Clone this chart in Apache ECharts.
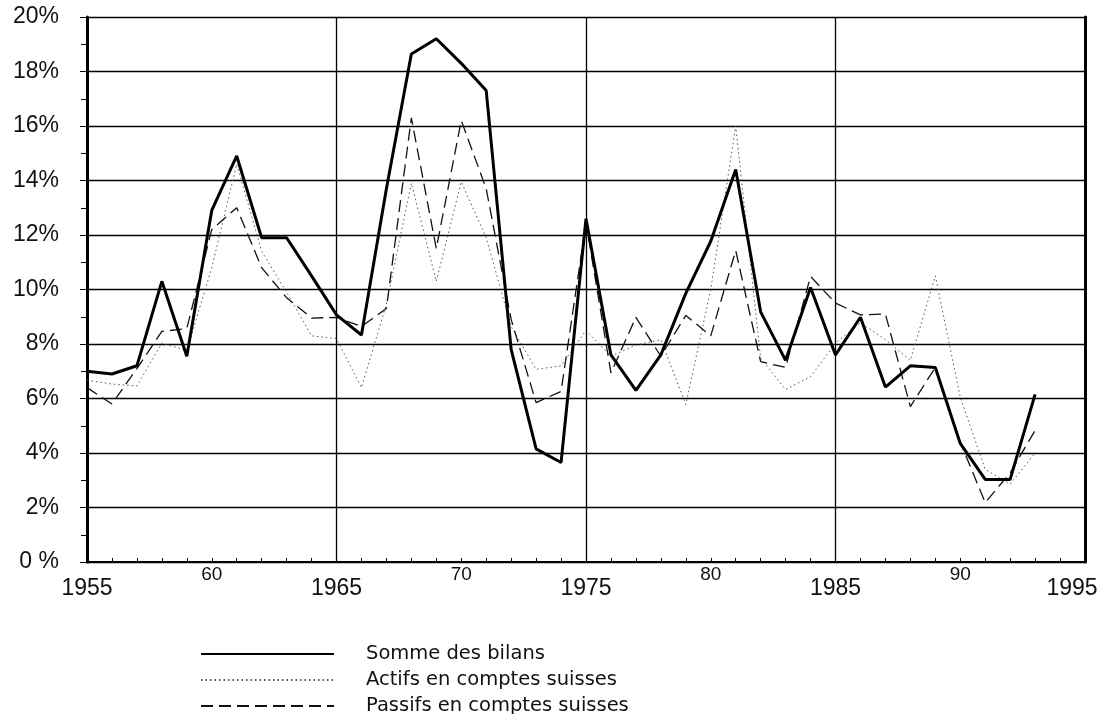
<!DOCTYPE html>
<html>
<head>
<meta charset="utf-8">
<script src="https://cdn.jsdelivr.net/npm/echarts@6/dist/echarts.min.js"></script>
<style>html,body{margin:0;padding:0;background:#fff}#c{width:1099px;height:714px}</style>
</head>
<body>
<div id="c"></div>
<script>
const years = [1955,1956,1957,1958,1959,1960,1961,1962,1963,1964,1965,1966,1967,1968,1969,1970,1971,1972,1973,1974,1975,1976,1977,1978,1979,1980,1981,1982,1983,1984,1985,1986,1987,1988,1989,1990,1991,1992,1993];
const somme = [7.0,6.9,7.2,10.3,7.55,12.9,14.9,11.9,11.9,10.5,9.07, 8.33,13.7,18.64,19.2,18.3,17.3,7.8,4.15,3.65,12.6, 7.6,6.3,7.6,9.86,11.77,14.4,9.18,7.4,10.07,7.6, 8.98,6.42,7.2,7.14,4.35,3.03,3.03,6.15];
const actifs = [6.67,6.53,6.46,8.03,7.76,10.8,14.6,11.4,9.9,8.3,8.2, 6.4,9.46,13.9,10.3,13.95,11.9,8.64,7.07,7.2,8.5, 7.55,7.96,8.16,5.78,10.0,16.0,7.48,6.33,6.8,8.03, 8.78,8.16,7.4,10.5,6.05,3.4,2.86,4.0];
const passifs = [6.4,5.8,7.1,8.46,8.57,12.2,13.0,10.8,9.7,8.95,8.98, 8.64,9.3,16.3,11.5,16.2,13.7,8.9,5.85,6.26,12.45, 6.94,8.98,7.55,9.05,8.3,11.43,7.35,7.14,10.48,9.5, 9.07,9.1,5.7,7.14,4.4,2.18,3.27,4.83];
const seriesNames = ['Somme des bilans','Actifs en comptes suisses','Passifs en comptes suisses'];
const yTicks = [0,2,4,6,8,10,12,14,16,18,20];

const font = 'Liberation Sans, Arial, sans-serif';
const pairs = arr => years.map((y,i)=>[y,arr[i]]);
const chart = echarts.init(document.getElementById('c'));
chart.setOption({
  animation:false,
  backgroundColor:'#fff',
  grid:{left:87,right:14,top:17,bottom:152,containLabel:false,outerBoundsMode:'none'},
  legend:{
    orient:'vertical', left:200, top:641, height:90, padding:0,
    itemWidth:133, itemHeight:12, itemGap:0,
    itemStyle:{opacity:0},
    data:[seriesNames[0],seriesNames[1],seriesNames[2]],
    textStyle:{fontFamily:'DejaVu Sans, sans-serif',fontSize:19.5,lineHeight:26,color:'#111',padding:[0,0,0,27]}
  },
  xAxis:{
    type:'value', min:1955, max:1995, interval:5,
    axisLine:{show:true,lineStyle:{color:'#000',width:2}},
    axisTick:{show:true,inside:true,length:4,lineStyle:{color:'#000',width:1}},
    minorTick:{show:true,splitNumber:5,length:4,lineStyle:{color:'#000',width:1}},
    splitLine:{show:true,lineStyle:{color:['#000','rgba(0,0,0,0)'],width:1.3}},
    axisLabel:{
      margin:3,
      formatter:v=>{
        if (v===1995) return '{last|'+v+'}';
        return (v%10===5)? '{big|'+v+'}' : '{small|'+String(v).slice(2)+'}';
      },
      rich:{
        big:{fontFamily:font,fontSize:23,color:'#111',padding:[12,0,0,0]},
        last:{fontFamily:font,fontSize:23,color:'#111',padding:[12,26,0,0]},
        small:{fontFamily:font,fontSize:19,color:'#111',padding:[0,0,0,0]}
      }
    }
  },
  yAxis:[{
    type:'value', min:0, max:20, interval:2,
    axisLine:{show:true,lineStyle:{color:'#000',width:3}},
    axisTick:{show:true,length:7,lineStyle:{color:'#000',width:1}},
    minorTick:{show:true,splitNumber:2,length:6,lineStyle:{color:'#000',width:1}},
    splitLine:{show:true,lineStyle:{color:'#000',width:1.3}},
    axisLabel:{margin:28,fontFamily:font,fontSize:23,color:'#111',formatter:v=>(v===0?'0 %':v+'%')}
  },{
    type:'value', min:0, max:20, interval:2, position:'right',
    axisLine:{show:true,lineStyle:{color:'#000',width:3}},
    axisTick:{show:false}, axisLabel:{show:false}, splitLine:{show:false}
  }],
  series:[
    {name:seriesNames[1],type:'line',data:pairs(actifs),symbol:'none',z:2,
     lineStyle:{color:'#555',width:1,type:[1.5,3]},itemStyle:{color:'#555'}},
    {name:seriesNames[2],type:'line',data:pairs(passifs),symbol:'none',z:3,
     lineStyle:{color:'#111',width:1.3,type:[12,6]},itemStyle:{color:'#111'}},
    {name:seriesNames[0],type:'line',data:pairs(somme),symbol:'none',z:4,
     lineStyle:{color:'#000',width:3},itemStyle:{color:'#000'}}
  ]
});
</script>
</body>
</html>
